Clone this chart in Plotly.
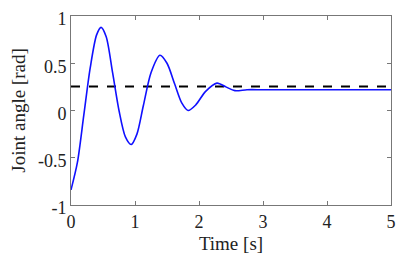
import plotly.graph_objects as go

t = [0, 0.1, 0.2, 0.3, 0.4, 0.47, 0.55, 0.65, 0.75, 0.85, 0.94, 1.03, 1.13, 1.25, 1.39,
     1.5, 1.62, 1.73, 1.83, 1.95, 2.1, 2.28, 2.42, 2.56, 2.75, 3.0, 4.0, 5.0]
angle = [-0.84, -0.55, -0.05, 0.45, 0.80, 0.88, 0.78, 0.40, 0.0, -0.28, -0.36, -0.25, 0.05,
         0.40, 0.585, 0.50, 0.28, 0.08, 0.0, 0.06, 0.20, 0.29, 0.25, 0.21, 0.22, 0.22, 0.22, 0.22]
ref_t = [0, 5]
ref_angle = [0.255, 0.255]
xticks = [0, 1, 2, 3, 4, 5]
yticks = [-1, -0.5, 0, 0.5, 1]

FONT = "Liberation Serif, Times New Roman, Times, serif"

fig = go.Figure()
fig.add_trace(go.Scatter(x=ref_t, y=ref_angle, mode="lines",
                         line=dict(color="black", width=2, dash="dash")))
fig.add_trace(go.Scatter(x=t, y=angle, mode="lines",
                         line=dict(color="#1010ff", width=1.6, shape="spline", smoothing=0.8)))

axis_common = dict(showgrid=False, zeroline=False, showline=True, linecolor="#777777",
                   linewidth=1, mirror="ticks", ticks="inside", ticklen=4, tickcolor="#777777",
                   ticklabeloverflow="allow", automargin=False,
                   tickfont=dict(family=FONT, size=18, color="#222222"))
fig.update_layout(
    width=402, height=265,
    margin=dict(l=63, r=19, t=8, b=68),
    paper_bgcolor="white", plot_bgcolor="white",
    font=dict(family=FONT),
    showlegend=False,
    xaxis=dict(range=[0, 5], tickvals=xticks, ticktext=[str(v) for v in xticks],
               title=dict(text="Time [s]", font=dict(family=FONT, size=19, color="#222222"),
                          standoff=6),
               **axis_common),
    yaxis=dict(range=[-1, 1], tickvals=yticks, ticktext=["-1", "-0.5", "0", "0.5", "1"],
               ticklabelshift=3,
               title=dict(text="Joint angle [rad]", font=dict(family=FONT, size=19, color="#222222"),
                          standoff=8),
               **axis_common),
)
fig.write_html("out.html")
